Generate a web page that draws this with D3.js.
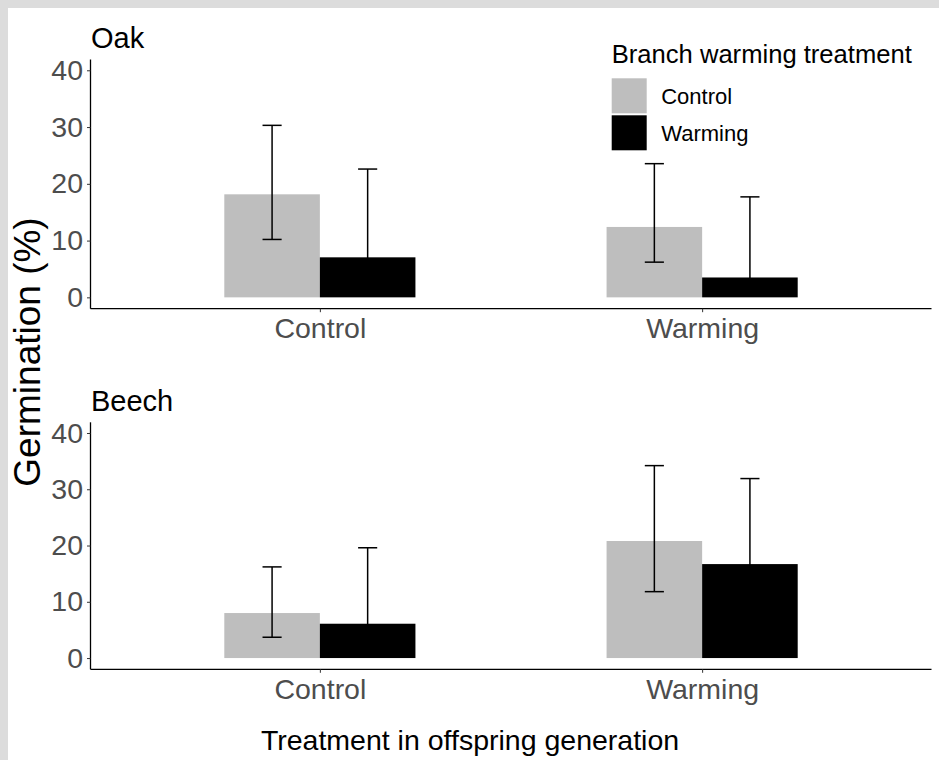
<!DOCTYPE html>
<html>
<head>
<meta charset="utf-8">
<script src="https://cdn.jsdelivr.net/npm/d3@7"></script>
<style>
  body { margin: 0; background: #fff; }
  text { font-family: Arial, "Liberation Sans", sans-serif; }
</style>
</head>
<body>
<div id="chart"></div>
<script>
// offspring treatment (x axis) and branch treatment (fill)
var offspring = ["Control", "Warming"];
var branch = ["Control", "Warming"];
var species = ["Oak", "Beech"];
var yTicks = [0, 10, 20, 30, 40];

// germination %, rows = offspring treatment, cols = branch treatment
var oakMean  = [[18.15, 7.05], [12.4, 3.5]];
var oakUpper = [[30.3, 22.6], [23.55, 17.7]];
var oakLower = [[10.2, 2.0], [6.2, 1.0]];

var beechMean  = [[8.0, 6.1], [20.8, 16.7]];
var beechUpper = [[16.2, 19.6], [34.2, 31.9]];
var beechLower = [[3.7, 2.0], [11.8, 8.0]];

var fills = ["#bebebe", "#000000"];

var width = 939, height = 760;

var svg = d3.select("#chart").append("svg")
    .attr("width", width)
    .attr("height", height);

// grey frame on top and left
svg.append("rect").attr("x", 0).attr("y", 0).attr("width", width).attr("height", 8).attr("fill", "#dcdcdc");
svg.append("rect").attr("x", 0).attr("y", 0).attr("width", 8).attr("height", height).attr("fill", "#dcdcdc");

var x = d3.scalePoint().domain(offspring).range([90.5, 931.5]).padding(0.6);
var step = x.step();
var xInner = d3.scaleBand().domain(branch).range([-step * 0.25, step * 0.25]);

var panels = [
    { name: species[0], top: 59.5, bottom: 308.7, mean: oakMean, upper: oakUpper, lower: oakLower },
    { name: species[1], top: 422.3, bottom: 669.3, mean: beechMean, upper: beechUpper, lower: beechLower }
];

panels.forEach(function (p) {
    var y = d3.scaleLinear().domain([-2, 41.9]).range([p.bottom, p.top]);
    var g = svg.append("g");

    var rows = [];
    offspring.forEach(function (o, i) {
        branch.forEach(function (b, j) {
            rows.push({ o: o, b: b, j: j, mean: p.mean[i][j], upper: p.upper[i][j], lower: p.lower[i][j] });
        });
    });

    g.selectAll("rect.bar").data(rows).enter().append("rect")
        .attr("class", "bar")
        .attr("x", function (d) { return x(d.o) + xInner(d.b); })
        .attr("width", xInner.bandwidth())
        .attr("y", function (d) { return y(d.mean); })
        .attr("height", function (d) { return y(0) - y(d.mean); })
        .attr("fill", function (d) { return fills[d.j]; });

    // error bars
    var cap = xInner.bandwidth() * 0.1;
    var eb = g.selectAll("g.err").data(rows).enter().append("g").attr("class", "err")
        .attr("stroke", "#000").attr("stroke-width", 1.5);
    eb.append("line")
        .attr("x1", function (d) { return x(d.o) + xInner(d.b) + xInner.bandwidth() / 2; })
        .attr("x2", function (d) { return x(d.o) + xInner(d.b) + xInner.bandwidth() / 2; })
        .attr("y1", function (d) { return y(d.lower); })
        .attr("y2", function (d) { return y(d.upper); });
    ["upper", "lower"].forEach(function (k) {
        eb.append("line")
            .attr("x1", function (d) { return x(d.o) + xInner(d.b) + xInner.bandwidth() / 2 - cap; })
            .attr("x2", function (d) { return x(d.o) + xInner(d.b) + xInner.bandwidth() / 2 + cap; })
            .attr("y1", function (d) { return y(d[k]); })
            .attr("y2", function (d) { return y(d[k]); });
    });

    // y axis
    var yAxis = g.append("g")
        .attr("transform", "translate(90.5,0)")
        .call(d3.axisLeft(y).tickValues(yTicks).tickSize(3.5).tickPadding(4).tickFormat(d3.format("d")));
    yAxis.select(".domain").attr("d", "M0," + p.top + "V" + p.bottom).attr("stroke", "#000").attr("stroke-width", 1.3);
    yAxis.selectAll(".tick line").attr("stroke", "#333");
    yAxis.selectAll(".tick text").attr("font-size", 28.5).attr("fill", "#4d4d4d")
        .attr("font-family", "Arial, 'Liberation Sans', sans-serif");

    // x axis
    var xAxis = g.append("g")
        .attr("transform", "translate(0," + p.bottom + ")")
        .call(d3.axisBottom(x).tickSize(3.5).tickPadding(6));
    xAxis.select(".domain").attr("d", "M90.5,0H931.5").attr("stroke", "#000").attr("stroke-width", 1.3);
    xAxis.selectAll(".tick line").attr("stroke", "#333");
    xAxis.selectAll(".tick text").attr("font-size", 28.5).attr("fill", "#4d4d4d")
        .attr("font-family", "Arial, 'Liberation Sans', sans-serif");

    g.append("text")
        .attr("x", 91)
        .attr("y", p.top - 11.8)
        .attr("font-size", 29)
        .attr("fill", "#000")
        .text(p.name);
});

// legend
var legend = svg.append("g").attr("transform", "translate(611.7,0)");
legend.append("text").attr("x", 0).attr("y", 63).attr("font-size", 25.6).attr("fill", "#000")
    .text("Branch warming treatment");
branch.forEach(function (b, j) {
    legend.append("rect").attr("x", 0).attr("y", 78.3 + j * 37).attr("width", 35).attr("height", 35)
        .attr("fill", fills[j]);
    legend.append("text").attr("x", 49.5).attr("y", 96 + j * 37).attr("dy", "0.35em")
        .attr("font-size", 22).attr("fill", "#000").text(b);
});

// axis titles
svg.append("text")
    .attr("x", 470).attr("y", 750)
    .attr("text-anchor", "middle")
    .attr("font-size", 28.5).attr("fill", "#000")
    .text("Treatment in offspring generation");

svg.append("text")
    .attr("transform", "translate(40,352) rotate(-90)")
    .attr("text-anchor", "middle")
    .attr("font-size", 37).attr("fill", "#000")
    .text("Germination (%)");
</script>
</body>
</html>
